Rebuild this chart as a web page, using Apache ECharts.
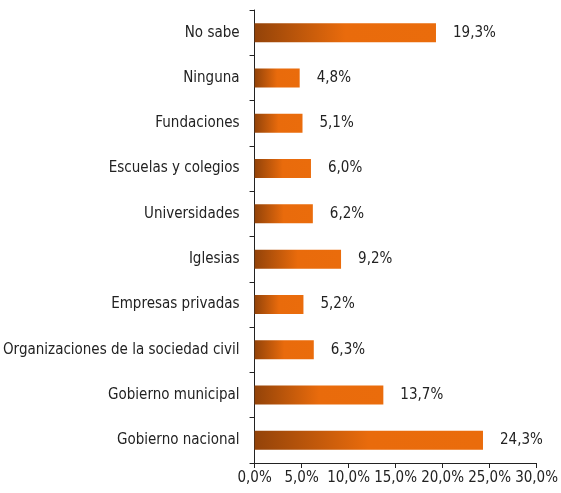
<!DOCTYPE html>
<html>
<head>
<meta charset="utf-8">
<script src="https://cdn.jsdelivr.net/npm/echarts@6/dist/echarts.min.js"></script>
<style>
html,body{margin:0;padding:0;background:#fff;}
#chart{width:561px;height:493px;}
</style>
</head>
<body>
<div id="chart"></div>
<script>
// categorias de abajo hacia arriba
var categorias = ['Gobierno nacional', 'Gobierno municipal', 'Organizaciones de la sociedad civil',
  'Empresas privadas', 'Iglesias', 'Universidades', 'Escuelas y colegios', 'Fundaciones', 'Ninguna', 'No sabe'];
var valores = [24.3, 13.7, 6.3, 5.2, 9.2, 6.2, 6.0, 5.1, 4.8, 19.3];
var ejeMin = 0, ejeMax = 30, ejePaso = 5;

var fuente = '"Liberation Sans Narrow", "DejaVu Sans Condensed", sans-serif';

function coma(v, d) {
  return v.toFixed(d).replace('.', ',');
}

var myChart = echarts.init(document.getElementById('chart'));
myChart.setOption({
  animation: false,
  grid: { left: 252, right: 24, top: 10, bottom: 30 },
  xAxis: {
    type: 'value',
    min: ejeMin, max: ejeMax, interval: ejePaso,
    splitLine: { show: false },
    axisLine: { show: true, lineStyle: { color: '#222', width: 1 } },
    axisTick: { show: true, length: 5, lineStyle: { color: '#222' } },
    axisLabel: {
      color: '#222', fontFamily: fuente, fontSize: 15, margin: 8,
      formatter: function (v) { return coma(v, 1) + '%'; }
    }
  },
  yAxis: {
    type: 'category',
    data: categorias,
    axisLine: { show: true, lineStyle: { color: '#222', width: 1 } },
    axisTick: { show: true, length: 5, lineStyle: { color: '#222' } },
    axisLabel: { color: '#222', fontFamily: fuente, fontSize: 15, margin: 15 }
  },
  series: [{
    type: 'bar',
    data: valores,
    barWidth: 19,
    itemStyle: {
      color: new echarts.graphic.LinearGradient(0, 0, 1, 0, [
        { offset: 0, color: '#934309' },
        { offset: 0.5, color: '#e96b0c' },
        { offset: 1, color: '#ea6c0c' }
      ])
    },
    label: {
      show: true, position: 'right', distance: 17,
      color: '#222', fontFamily: fuente, fontSize: 15,
      formatter: function (p) { return coma(p.value, 1) + '%'; }
    }
  }]
});
</script>
</body>
</html>
